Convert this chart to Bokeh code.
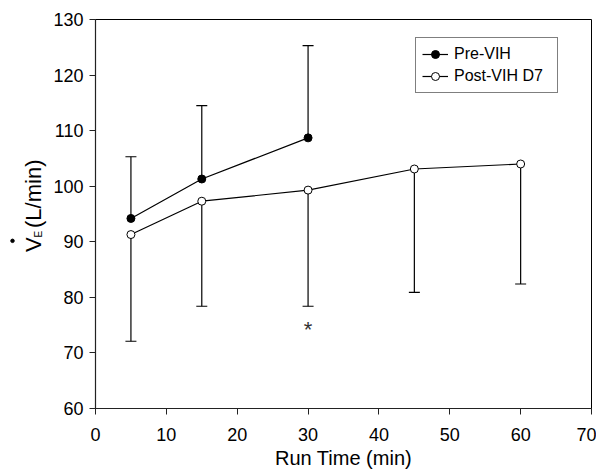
import math
from bokeh.plotting import figure
from bokeh.layouts import row
from bokeh.models import (ColumnDataSource, Whisker, TeeHead, Legend, LegendItem,
                          FixedTicker, Range1d)
from bokeh.core.properties import value
from bokeh.embed import file_html
from bokeh.resources import INLINE

# ---- data ----
time_pre = [5, 15, 30]
ve_pre = [94.2, 101.3, 108.7]
ve_pre_upper = [105.3, 114.5, 125.3]

time_post = [5, 15, 30, 45, 60]
ve_post = [91.3, 97.3, 99.3, 103.1, 104.0]
ve_post_lower = [72.1, 78.4, 78.4, 80.9, 82.4]

x_ticks = [0, 10, 20, 30, 40, 50, 60, 70]
y_ticks = [60, 70, 80, 90, 100, 110, 120, 130]

series_names = ["Pre-VIH", "Post-VIH D7"]
x_title = "Run Time (min)"
y_title_main = "V"
y_title_sub = "E"
y_title_unit = "(L/min)"
sig_x = [30]
sig_y = [74.6]
sig_text = ["*"]

FONT = "Liberation Sans"
H = 471
LAB_W = 48

# ---------------- main plot ----------------
p = figure(width=596 - LAB_W, height=H, output_backend="svg", toolbar_location=None,
           x_range=Range1d(0, 70), y_range=Range1d(60, 130))
p.min_border_left = 95 - LAB_W
p.min_border_right = 5
p.min_border_top = 19
p.min_border_bottom = 58
p.grid.visible = False
p.outline_line_color = "black"
p.outline_line_width = 1
p.background_fill_color = "white"
p.border_fill_color = "white"

for ax in (p.xaxis[0], p.yaxis[0]):
    ax.axis_line_color = "#222222"
    ax.axis_line_width = 1.2
    ax.major_tick_line_color = "#222222"
    ax.major_tick_in = 0
    ax.major_tick_out = 6
    ax.minor_tick_line_color = None
    ax.major_label_text_font = FONT
    ax.major_label_text_font_size = "18px"
    ax.major_label_text_color = "black"

p.xaxis[0].ticker = FixedTicker(ticks=x_ticks)
p.yaxis[0].ticker = FixedTicker(ticks=y_ticks)
p.xaxis[0].axis_label = x_title
p.xaxis[0].axis_label_text_font = FONT
p.xaxis[0].axis_label_text_font_size = "20px"
p.xaxis[0].axis_label_text_font_style = "normal"
p.xaxis[0].axis_label_text_color = "black"
p.xaxis[0].axis_label_standoff = 3
p.xaxis[0].major_label_standoff = 13
p.yaxis[0].major_label_standoff = 6

# error bars
src_pre = ColumnDataSource(dict(x=time_pre, y=ve_pre, up=ve_pre_upper))
src_post = ColumnDataSource(dict(x=time_post, y=ve_post, lo=ve_post_lower))

w1 = Whisker(source=src_pre, base="x", lower="y", upper="up", dimension="height",
             line_color="black", line_width=1.2, level="underlay",
             upper_head=TeeHead(size=11, line_color="black", line_width=1.2),
             lower_head=None)
w2 = Whisker(source=src_post, base="x", lower="lo", upper="y", dimension="height",
             line_color="black", line_width=1.2, level="underlay",
             lower_head=TeeHead(size=11, line_color="black", line_width=1.2),
             upper_head=None)
p.add_layout(w1)
p.add_layout(w2)

l1 = p.line("x", "y", source=src_pre, line_color="black", line_width=1.2)
s1 = p.scatter("x", "y", source=src_pre, size=8, fill_color="black",
               line_color="black", line_width=1)
l2 = p.line("x", "y", source=src_post, line_color="black", line_width=1.2)
s2 = p.scatter("x", "y", source=src_post, size=8, fill_color="white",
               line_color="black", line_width=1)

p.text(x=sig_x, y=sig_y, text=sig_text, text_align="center", text_baseline="middle",
       y_offset=2, text_font=value(FONT), text_font_size="22px", text_color="#333333")

legend = Legend(items=[LegendItem(label=series_names[0], renderers=[l1, s1]),
                       LegendItem(label=series_names[1], renderers=[l2, s2])],
                location=(320, 315))
legend.border_line_color = "black"
legend.border_line_width = 1
legend.background_fill_alpha = 1
legend.padding = 6
legend.spacing = 2
legend.margin = 0
legend.glyph_width = 26
legend.glyph_height = 20
legend.label_height = 20
legend.label_width = 97
legend.label_standoff = 6
legend.label_text_font = FONT
legend.label_text_font_size = "16px"
legend.label_text_color = "black"
p.add_layout(legend, "center")

# ---------------- y-axis title strip (dot over V, subscript E) ----------------
lab = figure(width=LAB_W, height=H, output_backend="svg", toolbar_location=None,
             x_range=Range1d(0, LAB_W), y_range=Range1d(0, H),
             x_axis_location=None, y_axis_location=None)
lab.min_border_left = lab.min_border_right = lab.min_border_top = lab.min_border_bottom = 0
lab.grid.visible = False
lab.outline_line_color = None
lab.background_fill_color = "white"
lab.border_fill_color = "white"

DY = 21  # empirical vertical correction for the strip
DX = 7   # empirical horizontal correction for rotated text


def ytext(px, py, txt, size):
    lab.text(x=[px + DX], y=[H - py - DY], text=[txt], angle=math.pi / 2,
             text_align="center", text_baseline="middle",
             text_font=value(FONT), text_font_size=size, text_color="black")


ytext(25.8, 251.5, y_title_main, "22px")
ytext(31.0, 239.0, y_title_sub, "10px")
ytext(26.3, 190.0, y_title_unit, "22px")
lab.scatter(x=[12], y=[H - 247 - DY], size=3.5, fill_color="black", line_color="black")

layout = row(lab, p, spacing=0)
open("out.html", "w").write(file_html(layout, INLINE))
